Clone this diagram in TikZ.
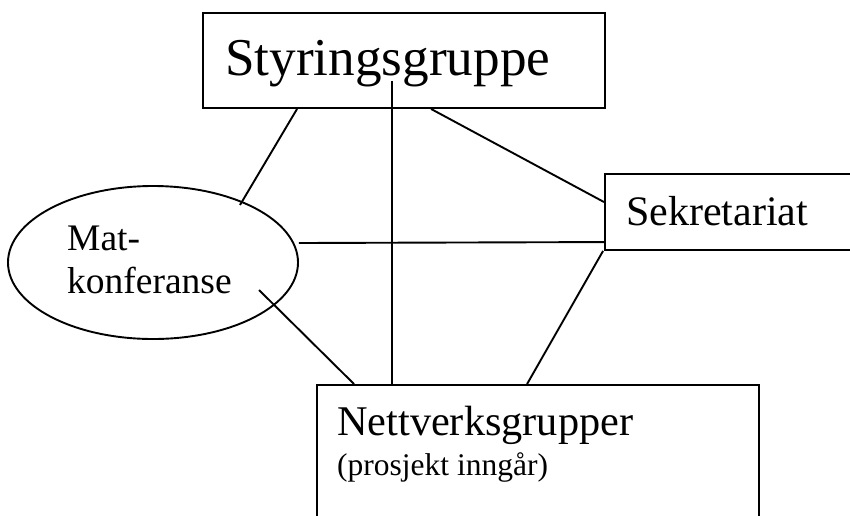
\documentclass[tikz,border=0pt]{standalone}
\usepackage{fontspec}
\setmainfont{Liberation Serif}
\usetikzlibrary{calc,shapes.geometric}

\begin{document}
\begin{tikzpicture}[x=1pt,y=-1pt,
  box/.style={draw, line width=1.9pt, rectangle, inner sep=0pt},
  oval/.style={draw, line width=1.9pt, ellipse, inner sep=0pt},
  link/.style={line width=1.9pt},
  lbl/.style={anchor=base west, inner sep=0pt}]
\useasboundingbox (0,0) rectangle (850,515);
\clip (0,0) rectangle (850,515);

% boxes and the oval
\node[box, minimum width=402pt, minimum height=95pt] (styr) at (404,60.5) {};
\node[box, minimum width=265pt, minimum height=76pt] (sek) at (737.5,212) {};
\node[box, minimum width=442pt, minimum height=155pt] (nett) at (538,462.5) {};
\node[oval, minimum width=290pt, minimum height=153pt] (mat) at (153,262.5) {};

% texts
\node[lbl, font=\fontsize{53.2}{60}\selectfont] (styrtxt) at (225,75) {Styringsgruppe};
\node[lbl, font=\fontsize{42}{48}\selectfont] (sektxt) at (626,225) {Sekretariat};
\node[lbl, font=\fontsize{37.5}{43}\selectfont] (mattxt1) at (67,250) {Mat-};
\node[lbl, font=\fontsize{37.5}{43}\selectfont] (mattxt2) at (67,293) {konferanse};
\node[lbl, font=\fontsize{42.3}{48}\selectfont] (netttxt) at (337,435) {Nettverksgrupper};
\node[lbl, font=\fontsize{31.5}{36}\selectfont] (nettsub) at (337,475) {(prosjekt inngår)};

% connectors
\draw[link] ($(styr.south west)+(95,0)$) -- ($(mat.center)+(87,-57.5)$);
\draw[link] ($(styr.south west)+(190,-28)$) -- ($(nett.north west)+(76,0)$);
\draw[link] ($(styr.south west)+(229,0)$) -- ($(sek.north west)+(0,29)$);
\draw[link] ($(mat.east)+(0,-19.5)$) -- ($(sek.north west)+(0,69)$);
\draw[link] ($(sek.south west)+(-1,0)$) -- ($(nett.north west)+(211,0)$);
\draw[link] ($(mat.center)+(106,27.5)$) -- ($(nett.north west)+(38,0)$);
\end{tikzpicture}
\end{document}
